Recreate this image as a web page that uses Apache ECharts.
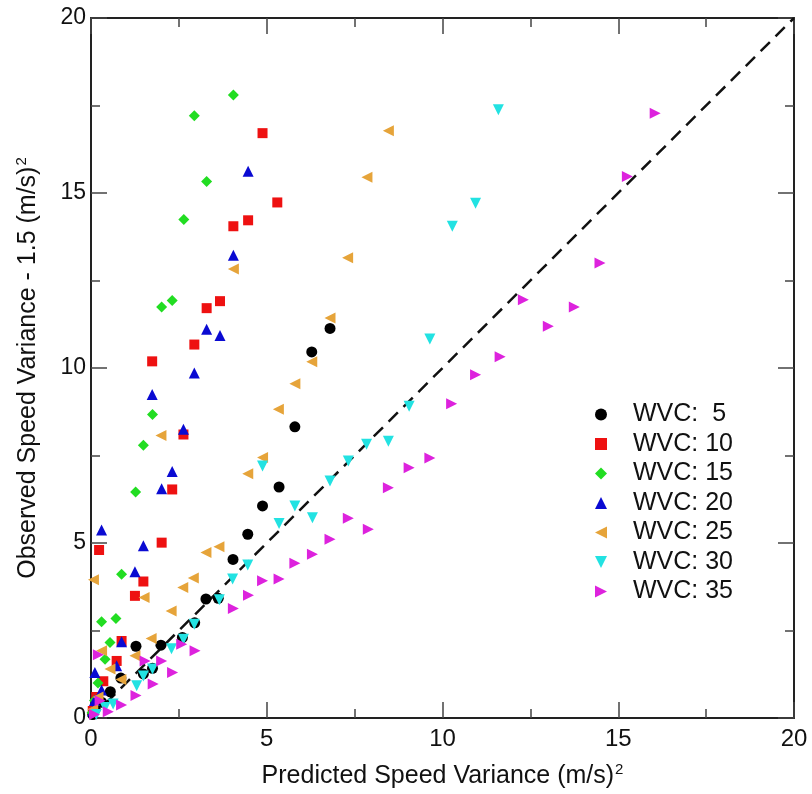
<!DOCTYPE html>
<html>
<head>
<meta charset="utf-8">
<script src="https://cdn.jsdelivr.net/npm/echarts@6/dist/echarts.min.js"></script>
<style>
  html, body { margin: 0; padding: 0; background: #fff; }
  #chart { width: 812px; height: 794px; }
</style>
</head>
<body>
<div id="chart"></div>
<script>
// [predicted, observed - 1.5] pairs
const wvc5 = [[6.8,11.13],[6.28,10.46],[5.8,8.32],[5.35,6.6],[4.88,6.06],[4.46,5.25],[4.04,4.53],[3.62,3.42],[3.27,3.4],[2.95,2.72],[2.6,2.3],[1.99,2.08],[1.28,2.05],[1.75,1.42],[1.49,1.26],[0.85,1.14],[0.55,0.75],[0.3,0.45],[0.12,0.25],[0.05,0.1]];
const wvc10 = [[4.88,16.71],[5.3,14.73],[4.47,14.22],[4.05,14.05],[3.67,11.91],[3.29,11.71],[2.94,10.67],[1.74,10.19],[2.63,8.1],[2.31,6.53],[2.01,5.01],[0.23,4.8],[1.49,3.9],[1.25,3.49],[0.87,2.2],[0.73,1.63],[0.35,1.05],[0.15,0.6],[0.05,0.2]];
const wvc15 = [[4.05,17.8],[2.94,17.21],[3.29,15.33],[2.64,14.24],[2.31,11.93],[2.01,11.74],[1.75,8.67],[1.49,7.79],[1.27,6.46],[0.87,4.11],[0.3,2.75],[0.71,2.84],[0.54,2.16],[0.4,1.68],[0.2,1.0],[0.1,0.5],[0.03,0.15]];
const wvc20 = [[4.47,15.62],[4.05,13.22],[3.29,11.11],[3.67,10.93],[2.94,9.86],[1.74,9.24],[2.63,8.25],[2.31,7.04],[2.01,6.55],[0.3,5.37],[1.49,4.92],[1.25,4.18],[0.87,2.18],[0.73,1.49],[0.11,1.3],[0.3,0.8],[0.1,0.5],[0.05,0.2]];
const wvc25 = [[8.46,16.78],[7.85,15.45],[7.3,13.15],[4.05,12.83],[6.8,11.43],[6.28,10.18],[5.8,9.55],[5.33,8.82],[1.99,8.07],[4.88,7.44],[4.46,6.98],[3.64,4.89],[3.27,4.73],[2.91,4.0],[0.07,3.95],[2.61,3.73],[1.51,3.44],[2.28,3.06],[1.71,2.27],[1.25,1.78],[0.3,1.92],[0.54,1.4],[0.85,1.1],[0.2,0.6],[0.05,0.25]];
const wvc30 = [[11.59,17.38],[10.94,14.71],[10.28,14.05],[9.64,10.83],[9.05,8.91],[8.46,7.91],[7.84,7.82],[7.32,7.34],[6.8,6.77],[4.88,7.2],[5.8,6.06],[6.3,5.72],[5.35,5.56],[4.46,4.37],[4.03,3.97],[3.65,3.38],[2.94,2.68],[2.63,2.25],[2.29,1.98],[1.75,1.4],[1.49,1.2],[1.3,0.92],[0.63,0.4],[0.4,0.3],[0.15,0.1]];
const wvc35 = [[16.05,17.28],[15.26,15.47],[14.48,13.0],[12.3,11.95],[13.75,11.74],[13.01,11.19],[11.64,10.32],[10.94,9.81],[10.26,8.98],[9.64,7.43],[9.05,7.15],[8.46,6.58],[7.32,5.71],[7.89,5.39],[6.8,5.11],[6.3,4.68],[5.8,4.42],[5.35,3.97],[4.88,3.92],[4.48,3.51],[4.05,3.13],[2.96,1.92],[2.58,2.11],[2.32,1.3],[2.01,1.63],[1.54,1.63],[1.77,0.97],[1.28,0.64],[0.87,0.37],[0.49,0.18],[0.26,0.49],[0.21,1.81],[0.1,0.1]];
const oneToOne = [[0,0],[20,20]];

const seriesNames = ['WVC:  5', 'WVC: 10', 'WVC: 15', 'WVC: 20', 'WVC: 25', 'WVC: 30', 'WVC: 35'];
const seriesData = [wvc5, wvc10, wvc15, wvc20, wvc25, wvc30, wvc35];
const colors = ['#000000', '#ee1111', '#22dd22', '#0a0ad2', '#e6a43a', '#22e2e2', '#dd22dd'];
const symbols = [
  'circle',
  'rect',
  'diamond',
  'path://M1,0 L2,2 L0,2 Z',
  'path://M0,1 L2,0 L2,2 Z',
  'path://M0,0 L2,0 L1,2 Z',
  'path://M0,0 L2,1 L0,2 Z'
];
const sizes = [11, 10, 11, 11, 11, 11, 11];

const font = 'Liberation Sans';

const chart = echarts.init(document.getElementById('chart'), null, { renderer: 'canvas' });

function axisCommon(showLabel) {
  return {
    type: 'value',
    min: 0,
    max: 20,
    interval: 5,
    axisLine: { show: true, onZero: false, lineStyle: { color: '#222', width: 2 } },
    axisTick: { show: true, inside: true, length: 16, lineStyle: { color: '#444', width: 1.5 } },
    minorTick: { show: true, splitNumber: 2, length: 9, lineStyle: { color: '#444', width: 1.5 } },
    splitLine: { show: false },
    axisLabel: { show: showLabel, fontFamily: font, fontSize: 24, color: '#111' }
  };
}

const series = seriesNames.map((name, i) => ({
  name: name,
  type: 'scatter',
  data: seriesData[i],
  symbol: symbols[i],
  symbolSize: sizes[i],
  itemStyle: { color: colors[i], opacity: 1 },
  z: 3 + i
}));

series.push({
  name: '1:1',
  type: 'line',
  data: oneToOne,
  showSymbol: false,
  symbol: 'none',
  lineStyle: { color: '#111', width: 2.5, type: [13, 8] },
  z: 2,
  silent: true
});

const option = {
  backgroundColor: '#fff',
  animation: false,
  grid: { left: 91, right: 18, top: 18, bottom: 75 },
  legend: {
    data: seriesNames,
    orient: 'vertical',
    left: 590,
    top: 397,
    itemWidth: 12,
    itemHeight: 12,
    itemGap: 4.5,
    textStyle: { fontFamily: font, fontSize: 25, color: '#111', lineHeight: 25, padding: [0, 0, 0, 21] }
  },
  xAxis: [
    Object.assign(axisCommon(true), {
      position: 'bottom',
      name: 'Predicted Speed Variance (m/s){sup|2}',
      nameLocation: 'middle',
      nameGap: 44,
      nameTextStyle: {
        fontFamily: font, fontSize: 25, color: '#111',
        rich: { sup: { fontFamily: font, fontSize: 15, color: '#111', verticalAlign: 'top', padding: [0, 0, 14, 1] } }
      },
      axisLabel: { fontFamily: font, fontSize: 24, color: '#111', margin: 9 }
    }),
    Object.assign(axisCommon(false), { position: 'top' })
  ],
  yAxis: [
    Object.assign(axisCommon(true), {
      position: 'left',
      name: 'Observed Speed Variance - 1.5 (m/s){sup|2}',
      nameLocation: 'middle',
      nameGap: 48,
      nameTextStyle: {
        fontFamily: font, fontSize: 25, color: '#111',
        rich: { sup: { fontFamily: font, fontSize: 15, color: '#111', verticalAlign: 'top', padding: [0, 0, 14, 1] } }
      },
      axisLabel: { fontFamily: font, fontSize: 23, color: '#111', margin: 5 }
    }),
    Object.assign(axisCommon(false), { position: 'right' })
  ],
  series: series
};

chart.setOption(option);
</script>
</body>
</html>
